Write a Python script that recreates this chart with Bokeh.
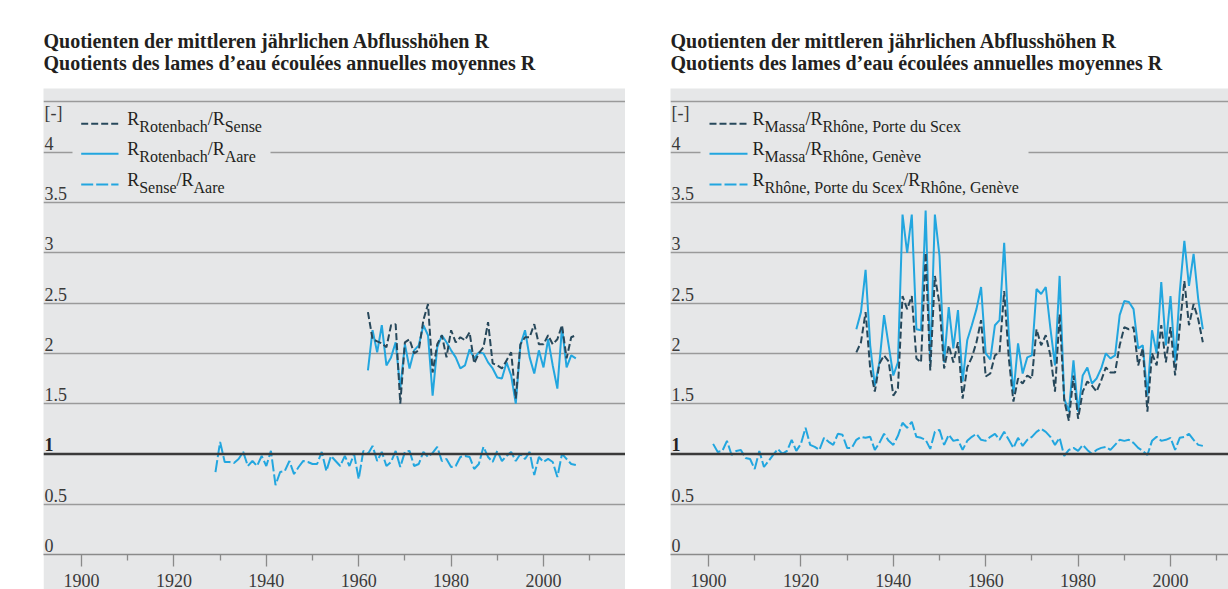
from bokeh.plotting import figure
from bokeh.layouts import row, column, Spacer
from bokeh.models import Range1d, FixedTicker, Span, Grid, ColumnDataSource
from bokeh.core.properties import value
from bokeh.embed import file_html
from bokeh.resources import INLINE

# ---------------- data ----------------
years_rotenbach = list(range(1962, 2008))
rotenbach_sense = [2.41, 2.14, 2.12, 2.10, 2.06, 2.28, 2.29, 1.50, 2.11, 2.14,
                   2.00, 2.03, 2.33, 2.49, 1.81, 2.09, 2.18, 1.96, 2.23, 2.11,
                   2.16, 2.13, 2.21, 1.90, 2.00, 2.06, 2.31, 1.90, 1.88, 1.85,
                   1.93, 2.01, 1.55, 2.09, 2.16, 2.16, 2.29, 2.09, 2.09, 2.18,
                   2.09, 2.14, 2.28, 1.95, 2.16, 2.18]
rotenbach_aare = [1.83, 2.23, 2.01, 2.28, 1.88, 1.96, 2.11, 1.65, 2.09, 1.85,
                  2.03, 2.08, 2.28, 2.18, 1.58, 2.06, 2.18, 2.11, 2.03, 1.96,
                  1.85, 1.88, 2.04, 1.95, 2.01, 2.00, 1.91, 1.85, 1.76, 1.75,
                  1.91, 1.78, 1.50, 2.08, 2.23, 1.96, 1.80, 2.03, 1.86, 2.14,
                  1.88, 1.65, 2.26, 1.86, 1.98, 1.95]
years_sense = list(range(1929, 2008))
sense_aare = [0.82, 1.12, 0.92, 0.92, 0.91, 0.95, 1.02, 0.88, 0.93, 0.88,
              0.98, 0.88, 1.03, 0.69, 0.82, 0.83, 0.93, 0.80, 0.87, 0.93,
              0.92, 0.90, 0.90, 1.02, 0.83, 0.98, 0.93, 0.88, 0.98, 0.88,
              1.00, 0.75, 1.03, 1.00, 1.08, 0.93, 1.02, 0.88, 0.92, 1.03,
              0.87, 1.02, 1.03, 0.88, 0.90, 1.02, 0.97, 1.01, 1.07, 0.93,
              0.95, 0.87, 0.88, 0.97, 0.98, 0.97, 0.85, 0.90, 1.07, 0.97,
              0.92, 1.03, 0.93, 0.98, 1.02, 0.93, 1.00, 0.95, 1.02,
              0.79, 0.97, 0.92, 0.95, 0.92, 0.77, 1.00, 0.95, 0.90, 0.89]
years_massa = list(range(1932, 2008))
massa_scex = [2.01, 2.11, 2.41, 1.85, 1.62, 1.90, 1.98, 1.92, 1.58, 1.65,
              2.57, 2.44, 2.57, 1.95, 1.91, 3.00, 1.83, 2.77, 2.49, 1.85,
              2.08, 1.91, 2.11, 1.55, 1.86, 1.96, 2.11, 2.33, 1.77, 1.80,
              1.98, 2.01, 2.62, 1.95, 1.52, 1.75, 1.70, 1.78, 1.75, 2.24,
              2.08, 2.18, 1.98, 1.62, 2.39, 1.53, 1.33, 1.78, 1.35, 1.62,
              1.72, 1.68, 1.62, 1.73, 1.86, 1.81, 1.81, 2.08, 2.26, 2.24,
              2.26, 1.88, 2.05, 1.42, 2.00, 1.88, 2.28, 1.91, 2.26, 1.78,
              2.26, 2.72, 2.28, 2.49, 2.34, 2.11]
massa_geneve = [2.24, 2.41, 2.83, 2.08, 1.68, 1.91, 2.38, 2.08, 1.78, 1.91,
                3.38, 3.00, 3.38, 2.24, 2.23, 3.42, 1.91, 3.38, 2.97, 1.91,
                2.46, 2.05, 2.43, 1.72, 2.13, 2.28, 2.44, 2.66, 2.00, 1.94,
                2.28, 2.33, 3.10, 2.18, 1.60, 2.10, 1.80, 1.96, 1.98, 2.64,
                2.59, 2.66, 2.25, 1.88, 2.77, 1.55, 1.42, 1.93, 1.42, 1.78,
                1.86, 1.70, 1.75, 1.85, 2.00, 1.95, 1.98, 2.38, 2.52, 2.51,
                2.44, 2.05, 2.08, 1.58, 2.23, 2.00, 2.71, 2.08, 2.57, 1.91,
                2.61, 3.12, 2.67, 2.99, 2.54, 2.24]
years_rhone = list(range(1901, 2008))
scex_geneve = [1.10, 1.02, 1.03, 1.13, 0.99, 1.03, 1.04, 0.96, 0.95, 0.85,
               1.03, 0.87, 0.93, 0.99, 1.05, 1.00, 1.03, 1.14, 1.03, 1.10,
               1.26, 1.09, 1.07, 1.04, 1.16, 1.12, 1.09, 1.20, 1.19, 1.06, 1.06,
               1.14, 1.17, 1.16, 1.17, 1.04, 1.11, 1.20, 1.13, 1.09, 1.18,
               1.31, 1.26, 1.32, 1.17, 1.16, 1.14, 1.05, 1.22, 1.24, 1.09,
               1.19, 1.13, 1.14, 1.04, 1.13, 1.17, 1.20, 1.14, 1.13, 1.17,
               1.20, 1.14, 1.22, 1.14, 1.06, 1.16, 1.08, 1.14, 1.17, 1.22,
               1.25, 1.22, 1.17, 1.09, 1.16, 0.98, 1.04, 1.06, 1.03, 1.09,
               1.04, 1.00, 1.04, 1.06, 1.07, 1.04, 1.09, 1.14, 1.13, 1.14,
               1.11, 1.06, 1.03, 0.99, 1.13, 1.17, 1.13, 1.14, 1.16, 1.04,
               1.16, 1.17, 1.20, 1.14, 1.09, 1.08]

title_lines = ["Quotienten der mittleren jährlichen Abflusshöhen R",
               "Quotients des lames d’eau écoulées annuelles moyennes R"]
unit_label = "[-]"
x_major = [1900, 1920, 1940, 1960, 1980, 2000]
x_minor = [1910, 1930, 1950, 1970, 1990, 2010]
y_ticks = [0, 0.5, 1, 1.5, 2, 2.5, 3, 3.5, 4]
y_tick_labels = ["0", "0.5", "1", "1.5", "2", "2.5", "3", "3.5", "4"]
grid_levels = [0.5, 1.5, 2, 2.5, 3, 3.5, 4, 4.5]
legend_left = [("Rotenbach", "Sense"), ("Rotenbach", "Aare"), ("Sense", "Aare")]
legend_right = [("Massa", "Rhône, Porte du Scex"), ("Massa", "Rhône, Genève"),
                ("Rhône, Porte du Scex", "Rhône, Genève")]

# ---------------- style / layout ----------------
GRAY = "#e6e7e8"
DARK = "#27485b"
BLUE = "#22a6df"
TEXT = "#231f20"
GRID = "#9a9a9a"
FONT = value("Liberation Serif")

PX_YEAR = 4.62
X0 = 1900 - 38 / PX_YEAR
TITLE_H = 88
PLOT_H = 501
AXIS_H = 33
FRAME_H = PLOT_H - AXIS_H          # 468
Y_SCALE = 101.0
Y_END = FRAME_H / Y_SCALE
Y0_PAGE = TITLE_H + FRAME_H        # page y of value 0
FIX = -7                           # baseline correction (px, negative = up)

# Times/Liberation Serif advance widths (1/1000 em)
W = {'R': 667, 'o': 500, 't': 278, 'e': 444, 'n': 500, 'b': 500, 'a': 444,
     'c': 444, 'h': 500, '/': 278, 'S': 556, 's': 389, 'A': 722, 'r': 333,
     'M': 889, 'ô': 500, ',': 250, ' ': 250, 'P': 556, 'd': 500, 'u': 500,
     'x': 500, 'G': 722, 'è': 444, 'v': 500}
BIG, SMALL = 18, 16


def tw(s, size):
    return sum(W.get(c, 500) for c in s) * size / 1000.0


def xd(px):
    return X0 + px / PX_YEAR


def yd(py):
    return (Y0_PAGE - py) / Y_SCALE


def title_fig(fw):
    t = figure(width=fw, height=TITLE_H, x_range=Range1d(0, fw),
               y_range=Range1d(0, TITLE_H),
               output_backend="svg", toolbar_location=None, x_axis_location=None,
               y_axis_location=None, min_border=0, outline_line_color=None,
               background_fill_color="white", border_fill_color="white")
    t.grid.grid_line_color = None
    t.text(x=[0, 0], y=[TITLE_H - 47.5, TITLE_H - 69.5], text=title_lines,
           y_offset=FIX,
           text_font=FONT, text_font_style="bold", text_font_size="20px",
           text_color=TEXT, text_baseline="alphabetic", text_align="left")
    return t


def plot_fig(fw, series, legend_rows, box, sample, text_x):
    p = figure(width=fw, height=PLOT_H,
               x_range=Range1d(X0, X0 + fw / PX_YEAR), y_range=Range1d(0, Y_END),
               output_backend="svg", toolbar_location=None, y_axis_location=None,
               min_border_left=0, min_border_right=0, min_border_top=0,
               min_border_bottom=AXIS_H, background_fill_color=GRAY,
               border_fill_color=GRAY, outline_line_color=None)
    p.grid.grid_line_color = None
    ax = p.xaxis[0]
    ax.ticker = FixedTicker(ticks=x_major, minor_ticks=x_minor)
    ax.axis_line_color = "#8a8a8a"
    ax.axis_line_width = 1.5
    ax.major_tick_line_color = "#8a8a8a"
    ax.minor_tick_line_color = "#8a8a8a"
    ax.major_tick_line_width = 1.3
    ax.minor_tick_line_width = 1.3
    ax.major_tick_in = 0
    ax.minor_tick_in = 0
    ax.major_tick_out = 12
    ax.minor_tick_out = 6
    ax.major_label_standoff = 7
    ax.major_label_text_font = "Liberation Serif"
    ax.major_label_text_font_size = "18px"
    ax.major_label_text_color = "#3a3a3a"

    p.add_layout(Grid(dimension=1, ticker=FixedTicker(ticks=grid_levels),
                      grid_line_color=GRID, grid_line_width=1.6))
    p.add_layout(Span(location=1, dimension="width", line_color="#3a3a3a",
                      line_width=2.6))

    # y tick labels (inside the plot, above each grid line)
    reg = [(v, l) for v, l in zip(y_ticks, y_tick_labels) if l != "1"]
    p.text(x=[X0] * len(reg), y=[v for v, _ in reg], text=[l for _, l in reg],
           x_offset=1, y_offset=-2 + FIX, text_font=FONT, text_font_size="18px",
           text_color="#3a3a3a", text_baseline="alphabetic", text_align="left")
    p.text(x=[X0], y=[1], text=["1"], x_offset=1, y_offset=-2 + FIX, text_font=FONT,
           text_font_size="18px", text_font_style="bold", text_color="#222222",
           text_baseline="alphabetic", text_align="left")
    p.text(x=[X0], y=[4], text=[unit_label], x_offset=1, y_offset=-32 + FIX,
           text_font=FONT, text_font_size="18px", text_color="#3a3a3a",
           text_baseline="alphabetic", text_align="left")

    # legend box
    p.quad(left=[xd(box[0])], right=[xd(box[1])], top=[yd(box[2])],
           bottom=[yd(box[3])], fill_color=GRAY, line_color=None)

    row_py = [123.5, 153.5, 184.5]
    big = dict(x=[], y=[], text=[], xo=[])
    small = dict(x=[], y=[], text=[], xo=[])
    for (yrs, vals, color, dash), (a, b), py in zip(series, legend_rows, row_py):
        p.line([xd(sample[0]), xd(sample[1])], [yd(py), yd(py)], line_color=color,
               line_width=2, line_dash=dash)
        cur = 0.0
        for txt, size in (("R", BIG), (a, SMALL), ("/", BIG), ("R", BIG), (b, SMALL)):
            d = big if size == BIG else small
            d["x"].append(xd(text_x))
            d["y"].append(yd(py))
            d["text"].append(txt)
            d["xo"].append(cur)
            cur += tw(txt, size)
    # data lines: blue ones first, dark dashed on top
    for yrs, vals, color, dash in (series[2], series[1], series[0]):
        p.line(yrs, vals, line_color=color, line_width=2, line_dash=dash)
    p.text(x="x", y="y", text="text", x_offset="xo", y_offset=2 + FIX,
           source=ColumnDataSource(big), text_font=FONT, text_font_size="18px",
           text_color=TEXT, text_baseline="alphabetic", text_align="left")
    p.text(x="x", y="y", text="text", x_offset="xo", y_offset=10 + FIX,
           source=ColumnDataSource(small), text_font=FONT, text_font_size="16px",
           text_color=TEXT, text_baseline="alphabetic", text_align="left")
    return p


left_series = [(years_rotenbach, rotenbach_sense, DARK, "7 3"),
               (years_rotenbach, rotenbach_aare, BLUE, "solid"),
               (years_sense, sense_aare, BLUE, "12 3")]
right_series = [(years_massa, massa_scex, DARK, "7 3"),
                (years_massa, massa_geneve, BLUE, "solid"),
                (years_rhone, scex_geneve, BLUE, "12 3")]

pL = plot_fig(582, left_series, legend_left, (29, 227, 106, 198), (37.7, 75), 83.7)
pR = plot_fig(558, right_series, legend_right, (30, 358, 106, 198), (39, 77), 82)

layout = row(Spacer(width=43, height=10),
             column(title_fig(582), pL),
             Spacer(width=45, height=10),
             column(title_fig(558), pR))

open("out.html", "w").write(file_html(layout, INLINE))
